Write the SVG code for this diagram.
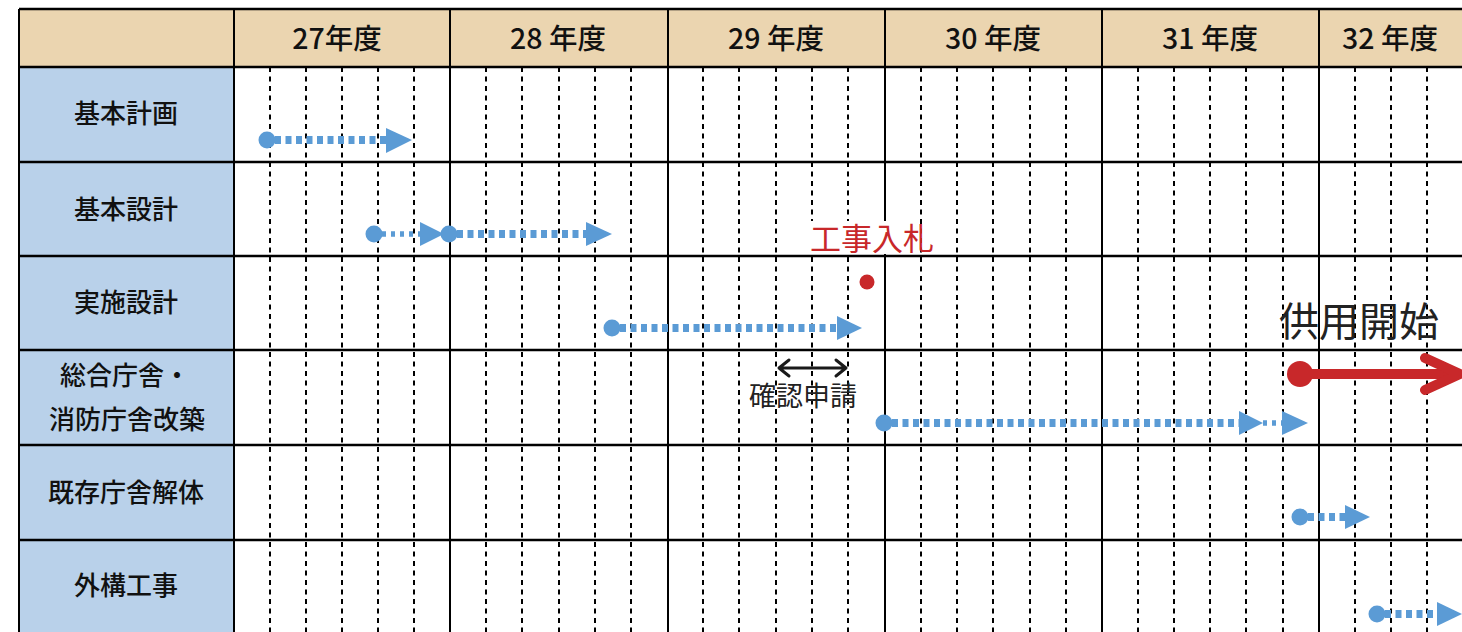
<svg xmlns="http://www.w3.org/2000/svg" width="1462" height="632" viewBox="0 0 1462 632">
<style>
.hdr{fill:#EBD5B0}
.lbl{fill:#B9D1EA}
.grid{stroke:#000;stroke-width:2.5;fill:none}
.col{stroke:#000;stroke-width:2;fill:none}
.dash{stroke:#000;stroke-width:2;stroke-dasharray:5 4.5;fill:none}
.ht{font-family:"Noto Sans CJK JP","Noto Sans",sans-serif;font-size:28.5px;font-weight:500;fill:#111;text-anchor:middle;dominant-baseline:central}
.rt{font-family:"Noto Sans CJK JP","Noto Sans",sans-serif;font-size:26px;font-weight:500;fill:#111;text-anchor:middle;dominant-baseline:central}
.bl{stroke:#5B9BD5;stroke-width:8;stroke-dasharray:6 4.5;fill:none}
.bls{stroke:#5B9BD5;stroke-width:5.5;stroke-dasharray:4 5;fill:none}
.bf{fill:#5B9BD5}
.note{font-family:"Noto Sans CJK JP","Noto Sans",sans-serif;text-anchor:middle;dominant-baseline:central}
</style>
<rect width="1462" height="632" fill="#fff"/>
<g id="grid">
<rect class="hdr" x="19" y="9" width="1443" height="58"/>
<rect class="lbl" x="19" y="67" width="215" height="565"/>
<path class="dash" d="M270 67V632M306 67V632M342 67V632M378 67V632M414 67V632M486 67V632M522 67V632M559 67V632M595 67V632M631 67V632M703 67V632M739 67V632M776 67V632M812 67V632M848 67V632M921 67V632M957 67V632M993 67V632M1030 67V632M1066 67V632M1138 67V632M1174 67V632M1210 67V632M1246 67V632M1283 67V632M1355 67V632M1391 67V632M1427 67V632"/>
<path class="col" d="M19 9V632M234 9V632M450 9V632M668 9V632M885 9V632M1102 9V632M1319 9V632"/>
<path class="grid" d="M19 9H1462M19 67H1462M19 162H1462M19 256H1462M19 350H1462M19 445H1462M19 540H1462"/>
</g>
<g id="headers">
<text class="ht" x="337" y="36">27年度</text>
<text class="ht" x="558" y="36">28 年度</text>
<text class="ht" x="776" y="36">29 年度</text>
<text class="ht" x="993" y="36">30 年度</text>
<text class="ht" x="1210" y="36">31 年度</text>
<text class="ht" x="1390" y="36">32 年度</text>
</g>
<g id="row-kihonkeikaku"><text class="rt" x="126" y="111">基本計画</text></g>
<g id="row-kihonsekkei"><text class="rt" x="126" y="207">基本設計</text></g>
<g id="row-jisshisekkei"><text class="rt" x="126" y="300">実施設計</text></g>
<g id="row-kaichiku"><text class="rt" x="125" y="373">総合庁舎・</text><text class="rt" x="127" y="417">消防庁舎改築</text></g>
<g id="row-kaitai"><text class="rt" x="126" y="490">既存庁舎解体</text></g>
<g id="row-gaiko"><text class="rt" x="126" y="583">外構工事</text></g>
<g id="labels">
<rect x="808" y="221" width="98" height="33" fill="#fff"/>
<text class="note" x="872" y="236" font-size="31" fill="#C8282A">工事入札</text>
<circle cx="867" cy="282" r="7.5" fill="#C8282A"/>
<text class="note" x="803" y="394" font-size="27" fill="#222">確認申請</text>
<text class="note" x="1359" y="319" font-size="40" fill="#222">供用開始</text>
</g>
<g id="connectors">
<circle class="bf" cx="267" cy="140" r="8.5"/><path class="bl" d="M275 140H386"/><polygon class="bf" points="386,128 412,140 386,153"/>
<circle class="bf" cx="374" cy="234" r="8.5"/><path class="bls" d="M382 234H420"/><polygon class="bf" points="420,222 444,234 420,246"/>
<circle class="bf" cx="449" cy="234" r="8.5"/><path class="bl" d="M457 234H586"/><polygon class="bf" points="586,222 612,234 586,246"/>
<circle class="bf" cx="612" cy="328" r="8.5"/><path class="bl" d="M620 328H837"/><polygon class="bf" points="837,316 862,328 837,340"/>
<circle class="bf" cx="884" cy="423" r="8.5"/><path class="bl" d="M892 423H1239"/><polygon class="bf" points="1239,411 1263,423 1239,435"/><path class="bls" d="M1263 423H1282"/><polygon class="bf" points="1282,411 1308,423 1282,435"/>
<circle class="bf" cx="1300" cy="517" r="8.5"/><path class="bl" d="M1308 517H1345"/><polygon class="bf" points="1345,505 1370,517 1345,529"/>
<circle class="bf" cx="1377" cy="614" r="8.5"/><path class="bl" d="M1385 614H1437"/><polygon class="bf" points="1437,602 1462,614 1437,626"/>
<circle cx="1300" cy="374" r="13" fill="#C8282A"/>
<path d="M1300 374H1456" stroke="#C8282A" stroke-width="10" fill="none"/>
<polyline points="1425,358 1460,374 1425,390" stroke="#C8282A" stroke-width="10" fill="none" stroke-linecap="round" stroke-linejoin="round"/>
<path d="M779 368H846M789 360L779 368L789 376M836 360L846 368L836 376" stroke="#1a1a1a" stroke-width="3" fill="none" stroke-linecap="round" stroke-linejoin="round"/>
</g>
</svg>
